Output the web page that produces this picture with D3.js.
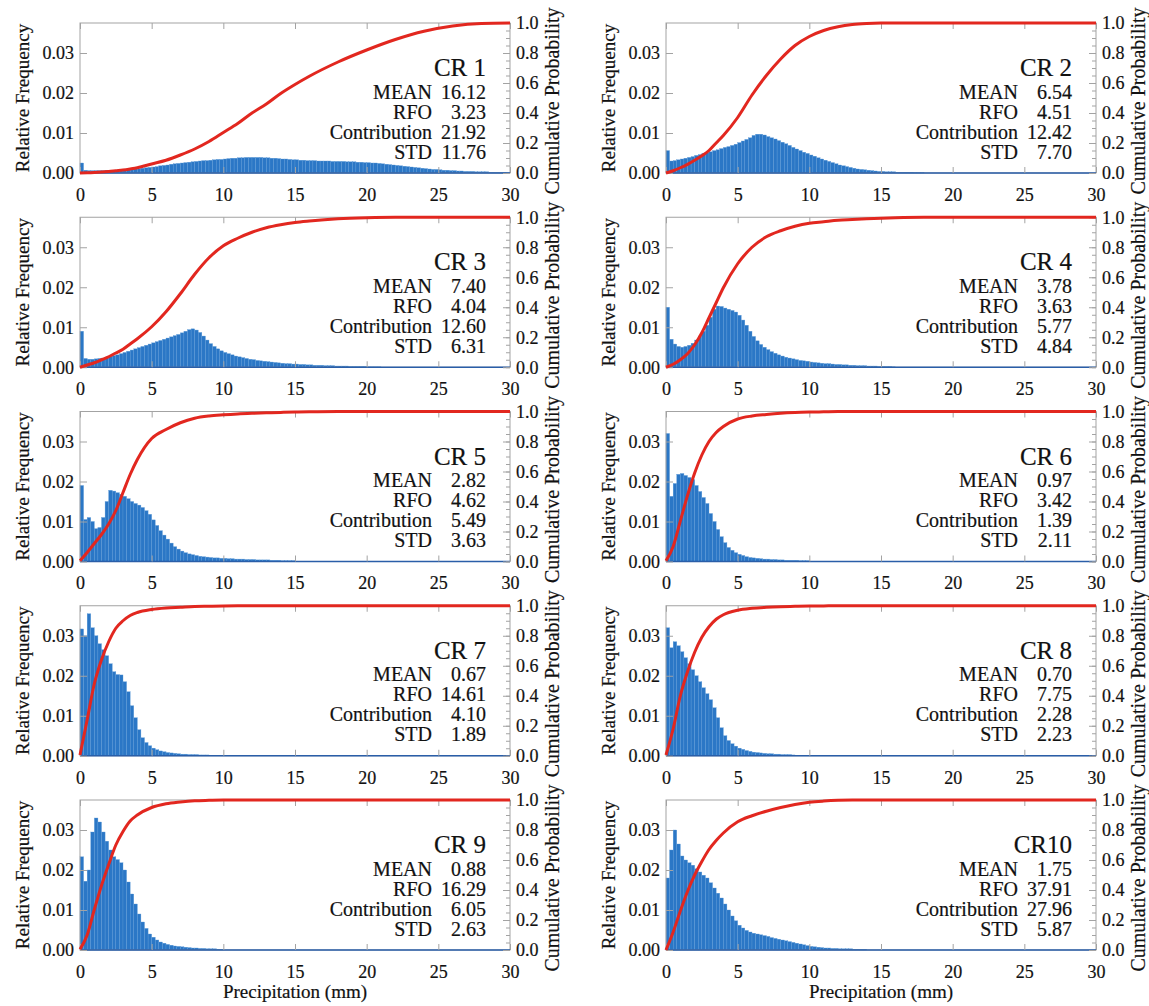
<!DOCTYPE html>
<html>
<head>
<meta charset="utf-8">
<script src="https://cdn.jsdelivr.net/npm/d3@7"></script>
<style>
  body { margin: 0; background: #fff; }
  text { font-family: "Liberation Serif", "Times New Roman", serif; fill: #111; }
</style>
</head>
<body>
<div id="vis"></div>
<script>
// histogram bins are 0.25 mm wide, starting at 0 mm
const binWidth = 0.25;

const crLabels = ['CR 1', 'CR 2', 'CR 3', 'CR 4', 'CR 5', 'CR 6', 'CR 7', 'CR 8', 'CR 9', 'CR10'];
const meanVals = [16.12, 6.54, 7.40, 3.78, 2.82, 0.97, 0.67, 0.70, 0.88, 1.75];
const rfoVals = [3.23, 4.51, 4.04, 3.63, 4.62, 3.42, 14.61, 7.75, 16.29, 37.91];
const contribVals = [21.92, 12.42, 12.60, 5.77, 5.49, 1.39, 4.10, 2.28, 6.05, 27.96];
const stdVals = [11.76, 7.70, 6.31, 4.84, 3.63, 2.11, 1.89, 2.23, 2.63, 5.87];

const xTicks = [0, 5, 10, 15, 20, 25, 30];
const freqTicks = [0, 0.01, 0.02, 0.03];
const cumTicks = [0, 0.2, 0.4, 0.6, 0.8, 1.0];

// relative frequency per bin (one line per mm)
const hist1 = [
  0.0025, 0.0007, 0.0006, 0.0006,
  0.0006, 0.0006, 0.0006, 0.0007,
  0.0007, 0.0007, 0.0007, 0.0008,
  0.0008, 0.0009, 0.0009, 0.0010,
  0.0011, 0.0012, 0.0013, 0.0014,
  0.0015, 0.0016, 0.0018, 0.0019,
  0.0020, 0.0022, 0.0023, 0.0024,
  0.0025, 0.0026, 0.0027, 0.0028,
  0.0029, 0.0030, 0.0031, 0.0031,
  0.0032, 0.0033, 0.0034, 0.0034,
  0.0035, 0.0036, 0.0037, 0.0037,
  0.0038, 0.0038, 0.0039, 0.0039,
  0.0039, 0.0039, 0.0039, 0.0038,
  0.0038, 0.0037, 0.0037, 0.0036,
  0.0035, 0.0035, 0.0034, 0.0033,
  0.0033, 0.0032, 0.0032, 0.0031,
  0.0031, 0.0031, 0.0030, 0.0030,
  0.0030, 0.0030, 0.0029, 0.0029,
  0.0029, 0.0029, 0.0028, 0.0028,
  0.0028, 0.0027, 0.0027, 0.0026,
  0.0026, 0.0025, 0.0025, 0.0024,
  0.0023, 0.0022, 0.0021, 0.0020,
  0.0019, 0.0018, 0.0017, 0.0016,
  0.0015, 0.0014, 0.0013, 0.0012,
  0.0011, 0.0010, 0.0009, 0.0009,
  0.0008, 0.0007, 0.0007, 0.0006,
  0.0006, 0.0005, 0.0005, 0.0004,
  0.0004, 0.0004, 0.0003, 0.0003,
  0.0003, 0.0003, 0.0002, 0.0002,
  0.0002, 0.0002, 0.0002, 0.0001
];
const hist2 = [
  0.0056, 0.0030, 0.0031, 0.0033,
  0.0035, 0.0037, 0.0039, 0.0041,
  0.0044, 0.0046, 0.0049, 0.0051,
  0.0053, 0.0056, 0.0058, 0.0061,
  0.0064, 0.0066, 0.0069, 0.0072,
  0.0076, 0.0080, 0.0084, 0.0088,
  0.0094, 0.0097, 0.0097, 0.0095,
  0.0091, 0.0088, 0.0085, 0.0081,
  0.0077, 0.0073, 0.0069, 0.0064,
  0.0060, 0.0056, 0.0052, 0.0049,
  0.0045, 0.0042, 0.0038, 0.0035,
  0.0032, 0.0029, 0.0026, 0.0023,
  0.0020, 0.0018, 0.0016, 0.0014,
  0.0012, 0.0010, 0.0009, 0.0008,
  0.0007, 0.0006, 0.0005, 0.0004,
  0.0004, 0.0003, 0.0003, 0.0003,
  0.0002, 0.0002, 0.0002, 0.0002,
  0.0002, 0.0001, 0.0001, 0.0001
];
const hist3 = [
  0.0090, 0.0022, 0.0020, 0.0020,
  0.0021, 0.0022, 0.0023, 0.0025,
  0.0027, 0.0029, 0.0031, 0.0034,
  0.0037, 0.0040, 0.0043, 0.0046,
  0.0049, 0.0052, 0.0055, 0.0058,
  0.0061, 0.0064, 0.0067, 0.0070,
  0.0073, 0.0076, 0.0079, 0.0082,
  0.0086, 0.0090, 0.0094, 0.0096,
  0.0093, 0.0087, 0.0078, 0.0068,
  0.0059, 0.0052, 0.0046, 0.0041,
  0.0037, 0.0034, 0.0031, 0.0028,
  0.0026, 0.0024, 0.0022, 0.0020,
  0.0019, 0.0017, 0.0016, 0.0015,
  0.0014, 0.0013, 0.0012, 0.0011,
  0.0010, 0.0009, 0.0009, 0.0008,
  0.0008, 0.0007, 0.0007, 0.0006,
  0.0006, 0.0005, 0.0005, 0.0005,
  0.0004, 0.0004, 0.0004, 0.0003,
  0.0003, 0.0003, 0.0003, 0.0002,
  0.0002, 0.0002, 0.0002, 0.0002,
  0.0001, 0.0001, 0.0001, 0.0001
];
const hist4 = [
  0.0150, 0.0070, 0.0058, 0.0052,
  0.0050, 0.0052, 0.0055, 0.0060,
  0.0068, 0.0078, 0.0090, 0.0105,
  0.0125, 0.0145, 0.0153, 0.0152,
  0.0148, 0.0145, 0.0142, 0.0138,
  0.0130, 0.0118, 0.0105, 0.0090,
  0.0077, 0.0066, 0.0057, 0.0050,
  0.0044, 0.0039, 0.0035, 0.0031,
  0.0028, 0.0025, 0.0023, 0.0021,
  0.0019, 0.0017, 0.0016, 0.0015,
  0.0013, 0.0012, 0.0011, 0.0010,
  0.0009, 0.0009, 0.0008, 0.0007,
  0.0007, 0.0006, 0.0006, 0.0005,
  0.0005, 0.0004, 0.0004, 0.0004,
  0.0003, 0.0003, 0.0003, 0.0002,
  0.0002, 0.0002, 0.0002, 0.0001
];
const hist5 = [
  0.0190, 0.0105, 0.0110, 0.0100,
  0.0082, 0.0085, 0.0110, 0.0150,
  0.0178, 0.0176, 0.0172, 0.0168,
  0.0163, 0.0157, 0.0150, 0.0145,
  0.0141, 0.0135, 0.0127, 0.0118,
  0.0104, 0.0090, 0.0077, 0.0066,
  0.0056, 0.0046, 0.0037, 0.0031,
  0.0026, 0.0022, 0.0019, 0.0017,
  0.0015, 0.0013, 0.0012, 0.0011,
  0.0010, 0.0009, 0.0009, 0.0008,
  0.0008, 0.0007, 0.0007, 0.0006,
  0.0006, 0.0006, 0.0005, 0.0005,
  0.0005, 0.0004, 0.0004, 0.0004,
  0.0004, 0.0003, 0.0003, 0.0003,
  0.0002, 0.0002, 0.0002, 0.0002
];
const hist6 = [
  0.0320, 0.0163, 0.0195, 0.0218,
  0.0220, 0.0215, 0.0210, 0.0205,
  0.0190, 0.0175, 0.0160, 0.0145,
  0.0120, 0.0100, 0.0080, 0.0062,
  0.0047, 0.0035, 0.0028, 0.0022,
  0.0018, 0.0015, 0.0012, 0.0010,
  0.0009, 0.0008, 0.0007, 0.0006,
  0.0006, 0.0005, 0.0005, 0.0004,
  0.0004, 0.0003, 0.0003, 0.0003,
  0.0003, 0.0002, 0.0002, 0.0002
];
const hist7 = [
  0.0317, 0.0300, 0.0355, 0.0320,
  0.0300, 0.0280, 0.0265, 0.0250,
  0.0230, 0.0210, 0.0203, 0.0202,
  0.0185, 0.0160, 0.0125, 0.0095,
  0.0065, 0.0045, 0.0033, 0.0025,
  0.0019, 0.0015, 0.0012, 0.0010,
  0.0008, 0.0007, 0.0006, 0.0005,
  0.0004, 0.0004, 0.0003, 0.0003,
  0.0003, 0.0002, 0.0002, 0.0002
];
const hist8 = [
  0.0320, 0.0270, 0.0285, 0.0275,
  0.0260, 0.0245, 0.0230, 0.0215,
  0.0200, 0.0185, 0.0170, 0.0155,
  0.0140, 0.0120, 0.0095, 0.0070,
  0.0050, 0.0038, 0.0030, 0.0024,
  0.0019, 0.0016, 0.0013, 0.0011,
  0.0009, 0.0008, 0.0007, 0.0006,
  0.0005, 0.0005, 0.0004, 0.0004,
  0.0003, 0.0003, 0.0003, 0.0002
];
const hist9 = [
  0.0233, 0.0172, 0.0200, 0.0295,
  0.0330, 0.0320, 0.0295, 0.0272,
  0.0250, 0.0233, 0.0226, 0.0218,
  0.0200, 0.0170, 0.0140, 0.0115,
  0.0090, 0.0070, 0.0054, 0.0040,
  0.0032, 0.0025, 0.0020, 0.0017,
  0.0014, 0.0012, 0.0010, 0.0009,
  0.0008, 0.0007, 0.0006, 0.0005,
  0.0005, 0.0004, 0.0004, 0.0003,
  0.0003, 0.0003, 0.0002, 0.0002
];
const hist10 = [
  0.0180, 0.0250, 0.0300, 0.0265,
  0.0235, 0.0225, 0.0218, 0.0212,
  0.0203, 0.0195, 0.0187, 0.0180,
  0.0168, 0.0155, 0.0142, 0.0130,
  0.0115, 0.0100, 0.0085, 0.0073,
  0.0062, 0.0055, 0.0049, 0.0045,
  0.0042, 0.0040, 0.0038, 0.0036,
  0.0034, 0.0031, 0.0029, 0.0027,
  0.0025, 0.0023, 0.0021, 0.0019,
  0.0017, 0.0015, 0.0013, 0.0011,
  0.0009, 0.0008, 0.0007, 0.0006,
  0.0005, 0.0005, 0.0004, 0.0004,
  0.0003, 0.0003, 0.0003, 0.0003,
  0.0002, 0.0002, 0.0002, 0.0002
];

// cumulative probability, read at these precipitation values (mm)
const cdfX = [0, 0.5, 1, 1.5, 2, 2.5, 3, 3.5, 4, 5, 6, 7, 8, 9, 10, 11, 12, 13, 14, 15, 16, 18, 20, 22, 24, 26, 28, 30];
const cdf1 = [0, 0.001, 0.003, 0.006, 0.01, 0.015, 0.02, 0.027, 0.035, 0.06, 0.085, 0.12, 0.16, 0.21, 0.27, 0.33, 0.40, 0.46, 0.53, 0.59, 0.645, 0.74, 0.82, 0.89, 0.945, 0.98, 0.997, 1];
const cdf2 = [0, 0.015, 0.035, 0.058, 0.085, 0.115, 0.15, 0.2, 0.25, 0.37, 0.52, 0.65, 0.76, 0.85, 0.91, 0.95, 0.975, 0.99, 0.997, 1, 1, 1, 1, 1, 1, 1, 1, 1];
const cdf3 = [0, 0.015, 0.03, 0.05, 0.07, 0.095, 0.12, 0.155, 0.19, 0.27, 0.37, 0.49, 0.62, 0.73, 0.81, 0.86, 0.9, 0.93, 0.95, 0.965, 0.975, 0.99, 0.997, 1, 1, 1, 1, 1];
const cdf4 = [0, 0.02, 0.05, 0.09, 0.15, 0.23, 0.33, 0.43, 0.53, 0.69, 0.8, 0.87, 0.91, 0.94, 0.96, 0.97, 0.98, 0.985, 0.99, 0.994, 0.997, 1, 1, 1, 1, 1, 1, 1];
const cdf5 = [0.005, 0.06, 0.12, 0.18, 0.25, 0.34, 0.46, 0.58, 0.68, 0.82, 0.88, 0.925, 0.955, 0.97, 0.978, 0.984, 0.988, 0.991, 0.994, 0.996, 0.998, 1, 1, 1, 1, 1, 1, 1];
const cdf6 = [0.005, 0.1, 0.27, 0.44, 0.59, 0.71, 0.8, 0.86, 0.9, 0.95, 0.97, 0.98, 0.988, 0.993, 0.996, 0.998, 1, 1, 1, 1, 1, 1, 1, 1, 1, 1, 1, 1];
const cdf7 = [0.005, 0.24, 0.48, 0.64, 0.76, 0.85, 0.9, 0.935, 0.955, 0.975, 0.985, 0.99, 0.995, 0.997, 0.999, 1, 1, 1, 1, 1, 1, 1, 1, 1, 1, 1, 1, 1];
const cdf8 = [0.005, 0.18, 0.4, 0.56, 0.69, 0.79, 0.86, 0.91, 0.94, 0.97, 0.983, 0.99, 0.994, 0.996, 0.998, 0.999, 1, 1, 1, 1, 1, 1, 1, 1, 1, 1, 1, 1];
const cdf9 = [0.005, 0.1, 0.27, 0.43, 0.57, 0.7, 0.79, 0.86, 0.9, 0.95, 0.975, 0.987, 0.995, 0.998, 1, 1, 1, 1, 1, 1, 1, 1, 1, 1, 1, 1, 1, 1];
const cdf10 = [0, 0.12, 0.26, 0.39, 0.5, 0.59, 0.67, 0.73, 0.78, 0.855, 0.895, 0.925, 0.95, 0.97, 0.985, 0.993, 0.998, 1, 1, 1, 1, 1, 1, 1, 1, 1, 1, 1];

const histData = [hist1, hist2, hist3, hist4, hist5, hist6, hist7, hist8, hist9, hist10];
const cdfData = [cdf1, cdf2, cdf3, cdf4, cdf5, cdf6, cdf7, cdf8, cdf9, cdf10];

const width = 1149;
const height = 1006;
const colLeft = [80, 666];
const plotW = 430;
const plotH = 150;
const rowTop = 23;
const rowStep = 194.25;

const serif = '"Liberation Serif", "Times New Roman", serif';
const barColor = '#2b77c6';
const lineColor = '#e2271f';
const frameColor = '#a3a3a3';

const svg = d3.select('#vis')
  .append('svg')
  .attr('width', width)
  .attr('height', height);

function styleAxis(sel, size) {
  sel.attr('font-family', serif);
  sel.select('.domain').remove();
  sel.selectAll('line').attr('stroke', frameColor);
  sel.selectAll('text')
     .attr('font-family', serif)
     .attr('font-size', size)
     .attr('fill', '#111')
     .attr('stroke', '#111')
     .attr('stroke-width', 0.2);
}

function addText(g, x, y, size, anchor, str) {
  return g.append('text')
    .attr('x', x)
    .attr('y', y)
    .attr('text-anchor', anchor)
    .attr('font-family', serif)
    .attr('font-size', size)
    .attr('fill', '#111')
    .attr('stroke', '#111')
    .attr('stroke-width', 0.2)
    .text(str);
}

histData.forEach((hist, k) => {
  const x0 = colLeft[k % 2];
  const y0 = rowTop + Math.floor(k / 2) * rowStep;
  const g = svg.append('g').attr('transform', 'translate(' + x0 + ',' + y0 + ')');

  const xScale = d3.scaleLinear().domain([0, 30]).range([0, plotW]);
  const yFreq = d3.scaleLinear().domain([0, 0.0375]).range([plotH, 0]);
  const yCum = d3.scaleLinear().domain([0, 1]).range([plotH, 0]);

  // histogram
  g.selectAll('rect.bar')
   .data(hist)
   .enter()
   .append('rect')
   .attr('class', 'bar')
   .attr('x', (d, i) => xScale(i * binWidth))
   .attr('width', (d, i) => xScale((i + 1) * binWidth) - xScale(i * binWidth))
   .attr('y', (d) => yFreq(d))
   .attr('height', (d) => plotH - yFreq(d))
   .attr('fill', barColor)
   .attr('stroke', '#5f9bd8')
   .attr('stroke-width', 0.35);

  // frame
  g.append('rect')
   .attr('width', plotW)
   .attr('height', plotH)
   .attr('fill', 'none')
   .attr('stroke', frameColor)
   .attr('stroke-width', 1);
  g.append('line')
   .attr('x1', 0).attr('x2', plotW)
   .attr('y1', plotH).attr('y2', plotH)
   .attr('stroke', '#2a5ea8')
   .attr('stroke-width', 1.5);

  // axes, ticks pointing inward
  g.append('g')
   .call(d3.axisLeft(yFreq).tickValues(freqTicks).tickFormat(d3.format('.2f'))
           .tickSizeInner(-7).tickSizeOuter(0).tickPadding(6))
   .call(styleAxis, 18);

  g.append('g')
   .attr('transform', 'translate(' + plotW + ',0)')
   .call(d3.axisRight(yCum).tickValues(d3.range(0, 1.0001, 0.05)).tickFormat('')
           .tickSizeInner(-4).tickSizeOuter(0))
   .call(styleAxis, 18);
  g.append('g')
   .attr('transform', 'translate(' + plotW + ',0)')
   .call(d3.axisRight(yCum).tickValues(cumTicks).tickFormat(d3.format('.1f'))
           .tickSizeInner(-7).tickSizeOuter(0).tickPadding(6))
   .call(styleAxis, 18);

  g.append('g')
   .attr('transform', 'translate(0,' + plotH + ')')
   .call(d3.axisBottom(xScale).tickValues(xTicks).tickFormat(d3.format('d'))
           .tickSizeInner(-6).tickSizeOuter(0).tickPadding(15))
   .call(styleAxis, 18);
  g.append('g')
   .call(d3.axisTop(xScale).tickValues(xTicks).tickFormat('')
           .tickSizeInner(-6).tickSizeOuter(0))
   .call(styleAxis, 18);

  // cumulative probability
  const line = d3.line()
    .x((d, i) => xScale(cdfX[i]))
    .y((d) => yCum(d))
    .curve(d3.curveMonotoneX);
  g.append('path')
   .datum(cdfData[k])
   .attr('d', line)
   .attr('fill', 'none')
   .attr('stroke', lineColor)
   .attr('stroke-width', 3)
   .attr('stroke-linejoin', 'round');

  // axis titles
  addText(g, 0, 0, 19, 'middle', 'Relative Frequency')
    .attr('x', null).attr('y', null)
    .attr('dominant-baseline', 'central')
    .attr('transform', 'translate(-58,' + (plotH / 2) + ') rotate(-90)');
  addText(g, 0, 0, 20, 'middle', 'Cumulative Probability')
    .attr('x', null).attr('y', null)
    .attr('dominant-baseline', 'central')
    .attr('transform', 'translate(' + (plotW + 42) + ',' + (plotH / 2 + 3) + ') rotate(-90)');

  // panel label and statistics
  const numRight = plotW - 24;
  addText(g, numRight, 53, 25, 'end', crLabels[k]);

  const stats = [
    ['MEAN', meanVals[k]],
    ['RFO', rfoVals[k]],
    ['Contribution', contribVals[k]],
    ['STD', stdVals[k]]
  ];
  stats.forEach((s, j) => {
    const yy = 75.5 + j * 20;
    addText(g, numRight - 54, yy, 20, 'end', s[0]);
    addText(g, numRight, yy, 20, 'end', s[1].toFixed(2));
  });

  if (k >= 8) {
    addText(g, plotW / 2, 198, 19, 'middle', 'Precipitation (mm)');
  }
});
</script>
</body>
</html>
